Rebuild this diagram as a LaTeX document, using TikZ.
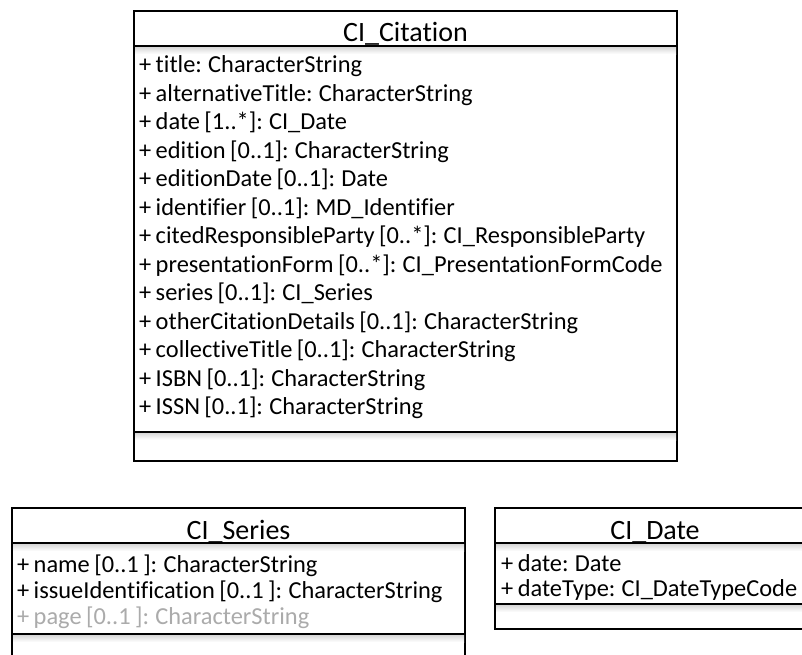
\documentclass[tikz,border=0pt]{standalone}
\usepackage{fontspec}
\setmainfont{Carlito}[Ligatures=NoCommon, WordSpace=0.8]
\begin{document}
\begin{tikzpicture}[x=1pt,y=-1pt,
  classbox/.style={draw=black, line width=1.6pt, fill=white, anchor=north west,
                   inner sep=0pt, outer sep=0pt},
  sepline/.style={draw=black, line width=1.6pt},
  classname/.style={anchor=base, inner sep=0pt, font=\fontsize{28}{32}\selectfont},
  attr/.style={anchor=base west, inner sep=0pt, font=\fontsize{24.4}{28}\selectfont},
  faded/.style={text=black!33},
  fade/.style={top color=black!16, bottom color=white, draw=none}]

\useasboundingbox (0,0) rectangle (802,654);
\clip (0,0) rectangle (802,654);

% ---------- CI_Citation ----------
\node[classbox, minimum width=543pt, minimum height=450pt] (cit) at (134,11) {};
\shade[fade] (135,46.8) rectangle (676,54);
\shade[fade] (135,432.8) rectangle (676,440);
\draw[sepline] (cit.west |- 0,46) -- (cit.east |- 0,46);
\draw[sepline] (cit.west |- 0,432) -- (cit.east |- 0,432);
\node[classname] (citname) at (405.5,41) {CI\_Citation};
\foreach \txt [count=\i from 0] in {
  {+ title: CharacterString},
  {+ alternativeTitle: CharacterString},
  {+ date [1..*]: CI\_Date},
  {+ edition [0..1]: CharacterString},
  {+ editionDate [0..1]: Date},
  {+ identifier [0..1]: MD\_Identifier},
  {+ citedResponsibleParty [0..*]: CI\_ResponsibleParty},
  {+ presentationForm [0..*]: CI\_PresentationFormCode},
  {+ series [0..1]: CI\_Series},
  {+ otherCitationDetails [0..1]: CharacterString},
  {+ collectiveTitle [0..1]: CharacterString},
  {+ ISBN [0..1]: CharacterString},
  {+ ISSN [0..1]: CharacterString}}
  \node[attr] (citattr\i) at (139,72.5+28.5*\i) {\txt};

% ---------- CI_Series ----------
\node[classbox, minimum width=453pt, minimum height=156pt] (ser) at (12,508) {};
\shade[fade] (13,543.8) rectangle (464,551);
\shade[fade] (13,634.8) rectangle (464,642);
\draw[sepline] (ser.west |- 0,543) -- (ser.east |- 0,543);
\draw[sepline] (ser.west |- 0,634) -- (ser.east |- 0,634);
\node[classname] (sername) at (238.5,539) {CI\_Series};
\node[attr] (serattr0) at (17,572.5) {+ name [0..1 ]: CharacterString};
\node[attr] (serattr1) at (17,598.5) {+ issueIdentification [0..1 ]: CharacterString};
\node[attr, faded] (serattr2) at (17,624.5) {+ page [0..1 ]: CharacterString};

% ---------- CI_Date ----------
\node[classbox, minimum width=320pt, minimum height=121pt] (dat) at (495,508) {};
\shade[fade] (496,604.8) rectangle (814,612);
\shade[fade] (496,543.8) rectangle (814,551);
\draw[sepline] (dat.west |- 0,543) -- (dat.east |- 0,543);
\draw[sepline] (dat.west |- 0,604) -- (dat.east |- 0,604);
\node[classname] (datname) at (655,539) {CI\_Date};
\node[attr] (datattr0) at (501,571) {+ date: Date};
\node[attr] (datattr1) at (501,596) {+ dateType: CI\_DateTypeCode};

\end{tikzpicture}
\end{document}
